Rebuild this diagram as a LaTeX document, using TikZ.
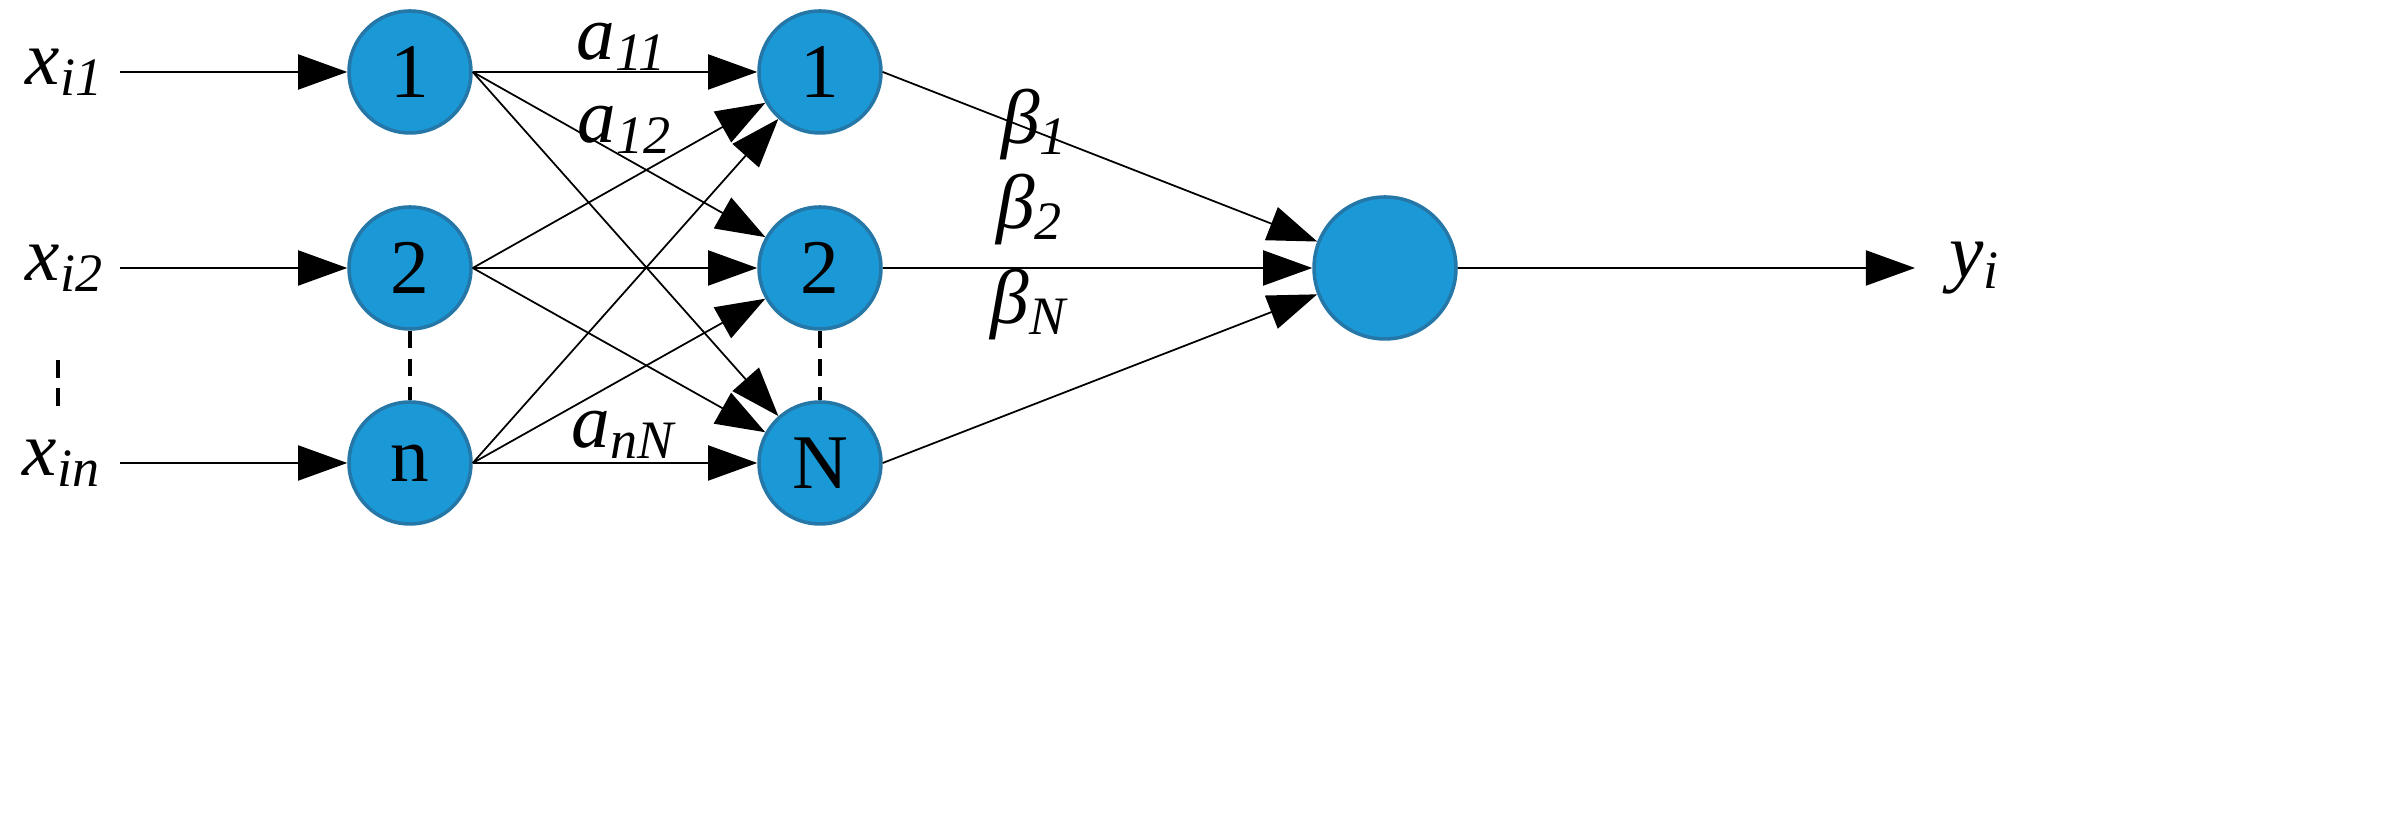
\documentclass[tikz,border=0pt]{standalone}
\usepackage{fontspec}
\setmainfont{Liberation Serif}
\usetikzlibrary{arrows.meta}
\definecolor{nodeblue}{HTML}{1B98D6}
\definecolor{rimblue}{HTML}{2577A8}
\begin{document}
\begin{tikzpicture}[font=\fontsize{22}{26}\selectfont]
    \tikzstyle{neuron}=[circle, draw=rimblue, fill=nodeblue, line width=1pt, minimum size=1.22cm, inner sep=0pt]
    \tikzstyle{link}=[-{Triangle[length=14pt,width=10pt]}, line width=0.5pt]
    \tikzstyle{gap}=[dash pattern=on 5pt off 3pt, line width=1.4pt]
    \useasboundingbox (0,0) rectangle (23.87,8.15);

    \node[neuron] (1) at (4.10,7.43) {1};
    \node[neuron] (2) at (4.10,5.47) {2};
    \node[neuron] (n) at (4.10,3.52) {n};
    \node[neuron] (H1) at (8.20,7.43) {1};
    \node[neuron] (H2) at (8.20,5.47) {2};
    \node[neuron] (HN) at (8.20,3.52) {N};
    \node[neuron, minimum size=1.42cm] (O) at (13.85,5.47) {};

    \node (x1) at (0.65,7.43) {\textit{x}\textsubscript{\textit{i1}}};
    \node (x2) at (0.65,5.47) {\textit{x}\textsubscript{\textit{i2}}};
    \node (xn) at (0.62,3.52) {\textit{x}\textsubscript{\textit{in}}};
    \node (y) at (19.75,5.47) {\textit{y}\textsubscript{\textit{i}}};
    \coordinate (x1e) at (1.20,7.43);
    \coordinate (x2e) at (1.20,5.47);
    \coordinate (xne) at (1.20,3.52);
    \coordinate (ye) at (19.15,5.47);

    \draw[link] (x1e)--(1);
    \draw[link] (x2e)--(2);
    \draw[link] (xne)--(n);
    \draw[link] (O.east)--(ye);

    \foreach \s in {1,2,n}
      \foreach \t in {H1,H2,HN}
        \draw[link] (\s.east)--(\t);
    \foreach \t in {H1,H2,HN}
      \draw[link] (\t.east)--(O);

    \draw[gap] (2)--(n);
    \draw[gap] (H2)--(HN);
    \coordinate (d1) at (0.58,4.55);
    \coordinate (d2) at (0.58,4.05);
    \draw[gap] (d1)--(d2);

    \node (a11) at (6.22,7.68) {\textit{a}\textsubscript{\textit{11}}};
    \node (a12) at (6.25,6.85) {\textit{a}\textsubscript{\textit{12}}};
    \node (anN) at (6.25,3.80) {\textit{a}\textsubscript{\textit{nN}}};
    \node (b1) at (10.35,6.90) {\textit{β}\textsubscript{\textit{1}}};
    \node (b2) at (10.30,6.05) {\textit{β}\textsubscript{\textit{2}}};
    \node (bN) at (10.30,5.10) {\textit{β}\textsubscript{\textit{N}}};
\end{tikzpicture}
\end{document}
